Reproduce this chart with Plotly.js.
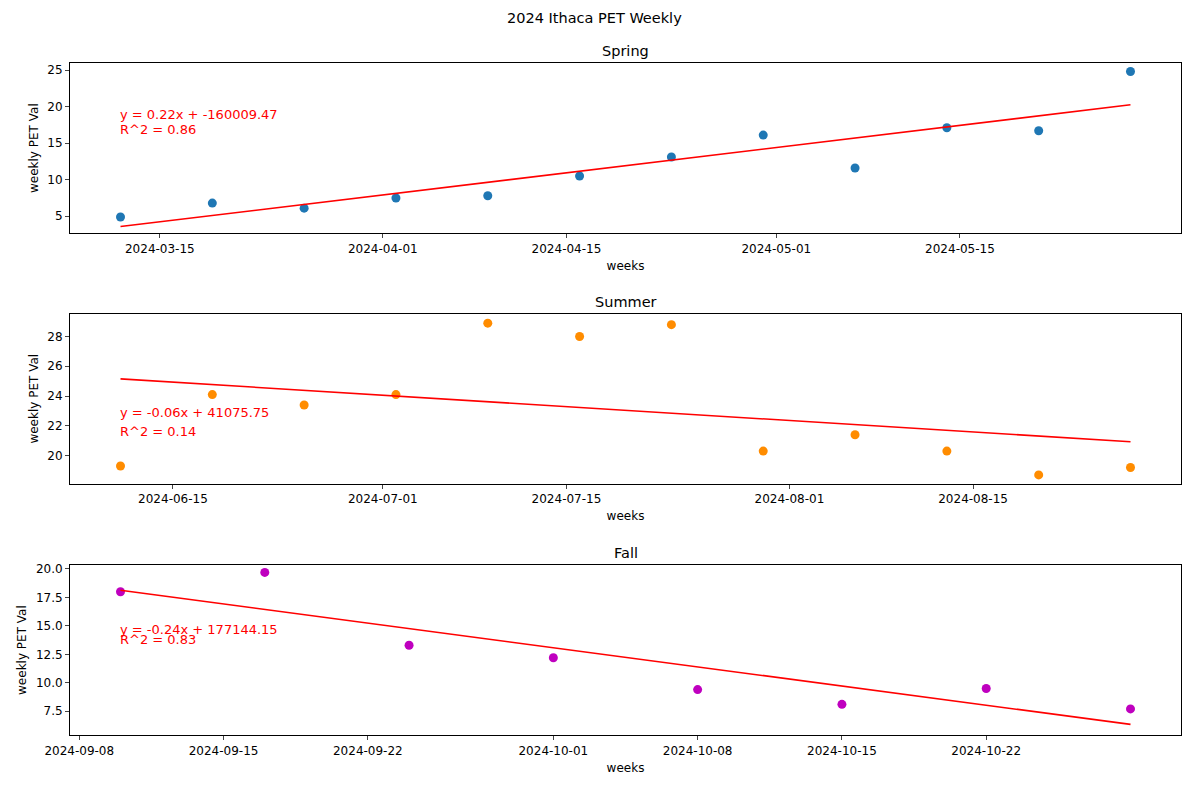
<!DOCTYPE html><html><head><script src="https://cdn.plot.ly/plotly-3.0.1.min.js"></script></head><body style="margin:0">
<div id="c" style="width:1189px;height:788px"></div>
<script>
const springDates=['2024-03-12','2024-03-19','2024-03-26','2024-04-02','2024-04-09','2024-04-16','2024-04-23','2024-04-30','2024-05-07','2024-05-14','2024-05-21','2024-05-28'];
const springVals=[4.9,6.8,6.1,7.5,7.8,10.5,13.1,16.1,11.6,17.1,16.7,24.8];
const summerDates=['2024-06-11','2024-06-18','2024-06-25','2024-07-02','2024-07-09','2024-07-16','2024-07-23','2024-07-30','2024-08-06','2024-08-13','2024-08-20','2024-08-27'];
const summerVals=[19.3,24.1,23.4,24.1,28.9,28.0,28.8,20.3,21.4,20.3,18.7,19.2];
const fallDates=['2024-09-10','2024-09-17','2024-09-24','2024-10-01','2024-10-08','2024-10-15','2024-10-22','2024-10-29'];
const fallVals=[18.0,19.7,13.3,12.2,9.4,8.1,9.5,7.7];
const springTicks=['2024-03-15','2024-04-01','2024-04-15','2024-05-01','2024-05-15'];
const summerTicks=['2024-06-15','2024-07-01','2024-07-15','2024-08-01','2024-08-15'];
const fallTicks=['2024-09-08','2024-09-15','2024-09-22','2024-10-01','2024-10-08','2024-10-15','2024-10-22'];
const eqs=[['y = 0.22x + -160009.47','R^2 = 0.86'],['y = -0.06x + 41075.75','R^2 = 0.14'],['y = -0.24x + 177144.15','R^2 = 0.83']];
const eqY=[[18.9,16.9],[22.9,21.6],[14.7,13.8]];
const yR=[[2.67,25.96],[18.1,29.54],[5.39,20.35]];
const dticks=[5,2,2.5];
const cols=['#1f77b4','#ff8c00','#bf00bf'];
const sets=[[springDates,springVals,springTicks,'Spring'],[summerDates,summerVals,summerTicks,'Summer'],[fallDates,fallVals,fallTicks,'Fall']];
const doms=[[0.704,0.920],[0.386,0.602],[0.067,0.283]];
const DAY=86400000;
function fit(d,v){const x=d.map(s=>Date.parse(s)/DAY);const n=x.length;const mx=x.reduce((a,b)=>a+b)/n,my=v.reduce((a,b)=>a+b)/n;let sxy=0,sxx=0;x.forEach((xi,i)=>{sxy+=(xi-mx)*(v[i]-my);sxx+=(xi-mx)**2});const m=sxy/sxx;return [my+m*(x[0]-mx),my+m*(x[n-1]-mx)];}
const traces=[],ann=[],layout={width:1189,height:788,margin:{l:0,r:0,t:0,b:0},showlegend:false,paper_bgcolor:'white',plot_bgcolor:'white',font:{family:'DejaVu Sans',size:12,color:'black'}};
ann.push({text:'2024 Ithaca PET Weekly',xref:'paper',yref:'paper',x:0.5,y:1-18/788,showarrow:false,font:{size:14.5},yanchor:'middle'});
sets.forEach((s,i)=>{const k=i?String(i+1):'';const [d,v,t,name]=s;
traces.push({x:d,y:v,mode:'markers',type:'scatter',marker:{color:cols[i],size:9},xaxis:'x'+k,yaxis:'y'+k});
const f=fit(d,v);traces.push({x:[d[0],d[d.length-1]],y:f,mode:'lines',line:{color:'red',width:1.6},xaxis:'x'+k,yaxis:'y'+k});
const span=(Date.parse(d[d.length-1])-Date.parse(d[0]))*0.05;
const ax={domain:[70/1189,1181/1189],range:[Date.parse(d[0])-span,Date.parse(d[d.length-1])+span],type:'date',tickvals:t,ticktext:t,ticks:'outside',ticklen:4,showline:true,mirror:true,linecolor:'black',showgrid:false,zeroline:false,anchor:'y'+k,title:{text:'weeks',standoff:6,font:{size:12}},tickfont:{size:12}};
const ay={domain:doms[i],range:yR[i],dtick:dticks[i],tick0:0,ticks:'outside',ticklen:4,showline:true,mirror:true,linecolor:'black',showgrid:false,zeroline:false,anchor:'x'+k,title:{text:'weekly PET Val',standoff:6,font:{size:12}},tickfont:{size:12}};
if(i==2)ay.tickformat='.1f';
layout['xaxis'+k]=ax;layout['yaxis'+k]=ay;
ann.push({text:name,xref:'paper',yref:'paper',x:0.5*(70+1181)/1189,y:doms[i][1],yanchor:'bottom',yshift:2,showarrow:false,font:{size:14.5}});
eqs[i].forEach((e,j)=>ann.push({text:e,xref:'x'+k,yref:'y'+k,x:d[0],y:eqY[i][j],xanchor:'left',showarrow:false,font:{color:'red',size:13},xshift:-3}));
});
layout.annotations=ann;
Plotly.newPlot('c',traces,layout,{staticPlot:true});
</script></body></html>
